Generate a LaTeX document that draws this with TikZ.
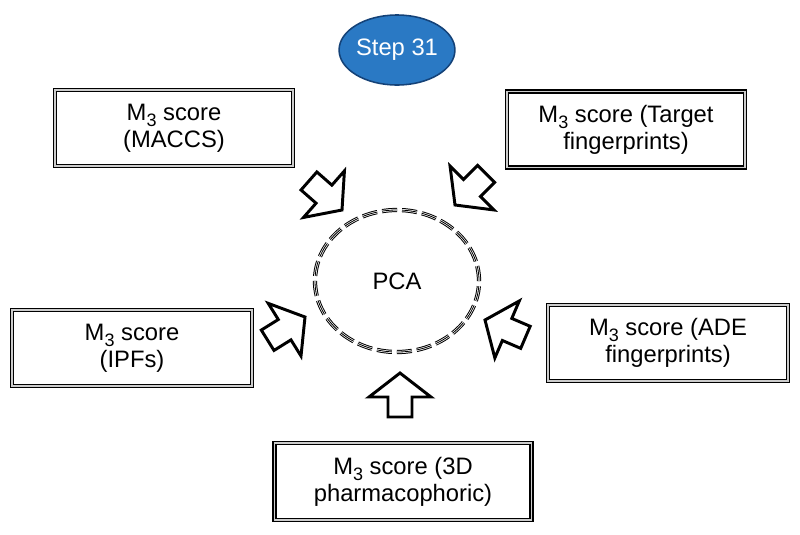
\documentclass[tikz,border=0pt]{standalone}
\usepackage{fontspec}
\setmainfont{Liberation Sans}
\usetikzlibrary{shapes.geometric}
\definecolor{stepfill}{RGB}{42,121,196}
\definecolor{stepdraw}{RGB}{20,66,120}
\newcommand{\mthree}{\smash{\raisebox{-4.3pt}{\fontsize{12.8}{12.8}\selectfont 3}}}
\begin{document}
\begin{tikzpicture}[x=0.025cm, y=-0.025cm,
  every node/.style={font=\fontsize{16.9}{19.2}\selectfont},
  scorebox/.style={draw=black, double=gray!40, line width=0.95pt, double distance=1.2pt,
    align=center, inner sep=0pt, minimum width=5.95cm, minimum height=1.9cm},
  pcaring/.style={line width=0.7pt, dash pattern=on 10.7pt off 3.56pt},
  arrowline/.style={draw=black, line width=2.1pt, line join=miter, fill=white},
  blockarrow/.pic={\draw[arrowline] (0,0) -- (-24,31) -- (-24,12) -- (-44,12) -- (-44,-12) -- (-24,-12) -- (-24,-31) -- cycle;}]
\useasboundingbox (0,0) rectangle (800,534);
% step badge
\node[ellipse, fill=stepfill, draw=stepdraw, line width=1.1pt, text=white,
  minimum width=2.7cm, minimum height=1.75cm, inner sep=0pt] (step) at (397,50) {Step 31};
% centre
\node[ellipse, draw, pcaring, double=white, double distance=1.6pt,
  minimum width=4.1cm, minimum height=3.55cm, inner sep=0pt] (pca) at (397,281) {PCA};
\draw[line width=0.6pt, dash pattern=on 10.7pt off 3.56pt] (pca.center) ellipse [x radius=2.05cm, y radius=1.775cm];
% score boxes
\node[scorebox] (maccs) at (174,128) {M\mthree{} score\\(MACCS)};
\node[scorebox] (target) at (626,129.5) {M\mthree{} score (Target\\fingerprints)};
\node[scorebox, minimum width=6cm] (ipf) at (132,348) {M\mthree{} score\\(IPFs)};
\node[scorebox, minimum width=6cm] (ade) at (668,343) {M\mthree{} score (ADE\\fingerprints)};
\node[scorebox, minimum width=6.425cm, minimum height=1.925cm] (pharm) at (403,481.5) {M\mthree{} score (3D\\pharmacophoric)};
% block arrows pointing to PCA
\pic[rotate=-41.3] (amaccs) at (342,210) {blockarrow};
\pic[rotate=-135] (atarget) at (455,205) {blockarrow};
\pic[rotate=31.9] (aipf) at (305,317) {blockarrow};
\pic[rotate=156.8] (aade) at (485,320) {blockarrow};
\pic[rotate=90] (apharm) at (400,373) {blockarrow};
\end{tikzpicture}
\end{document}
